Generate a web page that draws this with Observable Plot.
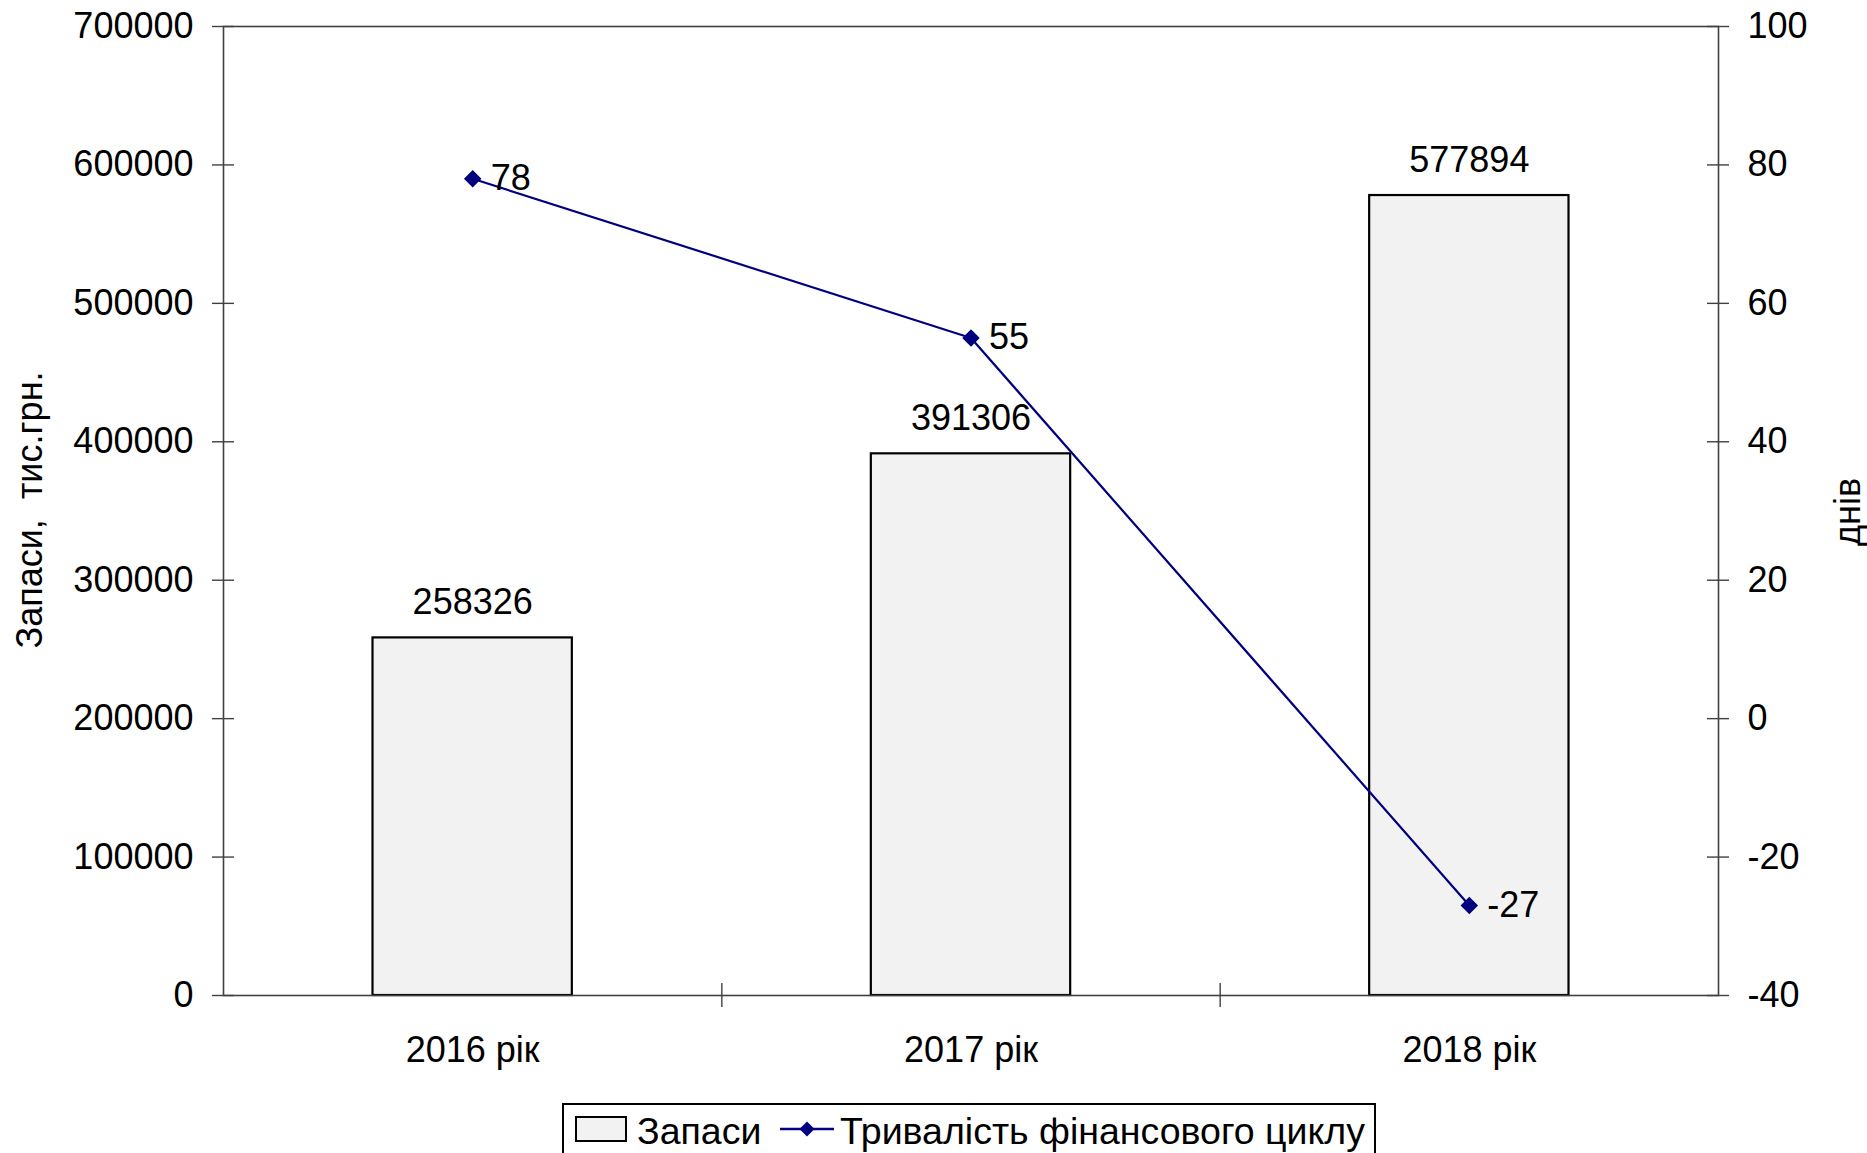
<!DOCTYPE html>
<html>
<head>
<meta charset="utf-8">
<script src="https://cdn.jsdelivr.net/npm/d3@7"></script>
<script src="https://cdn.jsdelivr.net/npm/@observablehq/plot@0.6"></script>
<style>
  html, body { margin: 0; padding: 0; background: #fff; overflow: hidden; }
  #wrap { position: relative; width: 1867px; height: 1153px; overflow: hidden; font-family: "Liberation Sans", Arial, sans-serif; color: #000; }
  #legend { position: absolute; left: 562px; top: 1103px; width: 814px; height: 80px; box-sizing: border-box;
            border: 2px solid #000; background: #fff; font-size: 37.5px; color: #000; }
  #legend .item { position: absolute; top: 6px; line-height: 40px; white-space: nowrap; }
  .ytitle { position: absolute; font-size: 36px; white-space: pre; line-height: 40px; transform: translate(-50%, -50%) rotate(-90deg); }
</style>
</head>
<body>
<div id="wrap">
  <div id="chart"></div>
  <div class="ytitle" id="ytl" style="left:30px; top:510px;"></div>
  <div class="ytitle" id="ytr" style="left:1848px; top:512px;"></div>
  <div id="legend">
    <svg class="item" style="left:10px;top:10px" width="56" height="30"><rect x="2" y="2" width="50" height="24" fill="#f2f2f2" stroke="#000" stroke-width="2"/></svg>
    <span class="item" id="lg1" style="left:73px"></span>
    <svg class="item" style="left:216px;top:4px" width="56" height="40"><line x1="0" y1="20" x2="54" y2="20" stroke="#000080" stroke-width="2.5"/><path d="M27,12.5 L34.5,20 L27,27.5 L19.5,20 Z" fill="#000080"/></svg>
    <span class="item" id="lg2" style="left:276px"></span>
  </div>
</div>
<script>
// ---- data ----
const years = ["2016 рік", "2017 рік", "2018 рік"];
const zapasy = [258326, 391306, 577894];
const cycle = [78, 55, -27];
const leftTicks = [0, 100000, 200000, 300000, 400000, 500000, 600000, 700000];
const rightTicks = [-40, -20, 0, 20, 40, 60, 80, 100];
const leftMax = 700000, rightMin = -40, rightMax = 100;
const seriesNames = ["Запаси", "Тривалість фінансового циклу"];
const yTitleLeft = "Запаси,  тис.грн.";
const yTitleRight = "днів";

document.getElementById("ytl").textContent = yTitleLeft;
document.getElementById("ytr").textContent = yTitleRight;
document.getElementById("lg1").textContent = seriesNames[0];
document.getElementById("lg2").textContent = seriesNames[1];

// map right-axis (days) values onto the left scale domain
const toLeft = v => (v - rightMin) / (rightMax - rightMin) * leftMax;
const fromLeft = d => Math.round(d / leftMax * (rightMax - rightMin) + rightMin);

const bars = years.map((y, i) => ({i, year: y, value: zapasy[i]}));
const pts = years.map((y, i) => ({i, year: y, value: cycle[i], yl: toLeft(cycle[i])}));

const diamond = {
  draw(context, size) {
    const h = Math.sqrt(size / Math.PI) * 1.25;
    context.moveTo(0, -h); context.lineTo(h, 0); context.lineTo(0, h); context.lineTo(-h, 0); context.closePath();
  }
};

const W = 1867, ML = 223, MR = 149, MT = 26, MB = 105, H = 1100;
const axisColor = "#404040";

const chart = Plot.plot({
  width: W, height: H,
  marginLeft: ML, marginRight: MR, marginTop: MT, marginBottom: MB,
  style: {fontFamily: '"Liberation Sans", Arial, sans-serif', fontSize: "36px", color: "#000", background: "transparent", overflow: "visible"},
  x: {type: "linear", domain: [0, years.length], axis: null},
  y: {domain: [0, leftMax], axis: null},
  marks: [
    Plot.rectY(bars, {x1: d => d.i + 0.3, x2: d => d.i + 0.7, y1: 0, y2: "value", fill: "#f2f2f2", stroke: "#000", strokeWidth: 2.2}),
    Plot.frame({stroke: axisColor, strokeWidth: 1.6}),
    // crossing tick marks
    Plot.ruleY(leftTicks, {y: d => d, x1: 0, x2: 0, insetLeft: -11, insetRight: -11, stroke: axisColor, strokeWidth: 1.4}),
    Plot.ruleY(rightTicks.map(toLeft), {y: d => d, x1: years.length, x2: years.length, insetLeft: -11, insetRight: -11, stroke: axisColor, strokeWidth: 1.4}),
    Plot.ruleX(d3.range(1, years.length), {x: d => d, y1: 0, y2: 0, insetTop: -12, insetBottom: -12, stroke: axisColor, strokeWidth: 1.4}),
    Plot.axisY({anchor: "left", ticks: leftTicks, tickSize: 0, tickPadding: 30, fontSize: 36, tickFormat: d => String(d), label: null}),
    Plot.axisY({anchor: "right", ticks: rightTicks.map(toLeft), tickSize: 0, tickPadding: 29, fontSize: 36, tickFormat: d => String(fromLeft(d)), label: null}),
    Plot.text(years, {x: (d, i) => i + 0.5, frameAnchor: "bottom", dy: 66, fontSize: 36, fill: "#000"}),
    // bar value labels
    Plot.text(bars, {x: d => d.i + 0.5, y: "value", text: d => String(d.value), dy: -35, fontSize: 36, fill: "#000"}),
    // line
    Plot.line(pts, {x: d => d.i + 0.5, y: "yl", stroke: "#000080", strokeWidth: 2.2}),
    Plot.dot(pts, {x: d => d.i + 0.5, y: "yl", symbol: diamond, r: 7, fill: "#000080", stroke: "none"}),
    Plot.text(pts, {x: d => d.i + 0.5, y: "yl", text: d => String(d.value), dx: 18, textAnchor: "start", fontSize: 36, fill: "#000"})
  ]
});
document.getElementById("chart").appendChild(chart);
</script>
</body>
</html>
